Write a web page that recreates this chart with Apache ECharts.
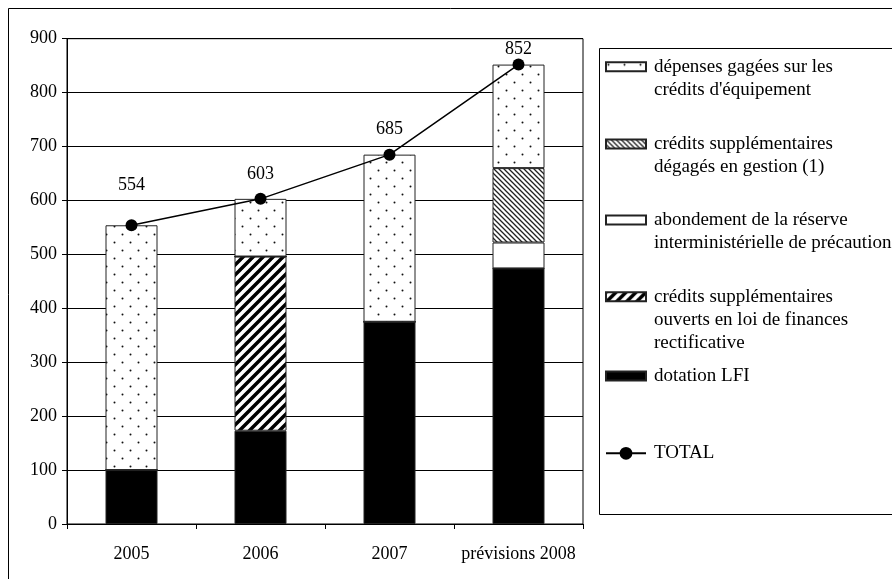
<!DOCTYPE html>
<html>
<head>
<meta charset="utf-8">
<script src="https://cdn.jsdelivr.net/npm/echarts@6/dist/echarts.min.js"></script>
<style>
  html, body { margin: 0; padding: 0; background: #fff; }
  #chart { width: 892px; height: 579px; }
</style>
</head>
<body>
<div id="chart"></div>
<script>
// data
const categories = ['2005', '2006', '2007', 'prévisions 2008']
const dotationLFI = [100, 173, 375, 474]
const creditsLFR = [0, 323, 0, 0]
const reservePrecaution = [0, 0, 0, 48]
const creditsGestion = [0, 0, 0, 138]
const depensesEquipement = [454, 107, 310, 192]
const totals = [554, 603, 685, 852]
const yTicks = [0, 100, 200, 300, 400, 500, 600, 700, 800, 900]

const FONT = 'Liberation Serif'

const makePattern = (w, h, draw) => {
  const c = document.createElement('canvas')
  c.width = w
  c.height = h
  const ctx = c.getContext('2d')
  ctx.fillStyle = '#fff'
  ctx.fillRect(0, 0, w, h)
  draw(ctx)
  return { image: c, repeat: 'repeat' }
}

const dots = makePattern(16, 16, (ctx) => {
  ctx.fillStyle = '#111'
  ctx.beginPath()
  ctx.arc(2.5, 2.5, 1, 0, Math.PI * 2)
  ctx.arc(10.5, 10.5, 1, 0, Math.PI * 2)
  ctx.fill()
})

const thickSlash = makePattern(10, 10, (ctx) => {
  ctx.strokeStyle = '#000'
  ctx.lineWidth = 3.5
  ctx.beginPath()
  for (let k = -1; k <= 1; k++) {
    ctx.moveTo(k * 10 - 1, 11)
    ctx.lineTo(k * 10 + 11, -1)
  }
  ctx.stroke()
})

const fineBackslash = makePattern(5, 5, (ctx) => {
  ctx.strokeStyle = '#222'
  ctx.lineWidth = 1.3
  ctx.beginPath()
  for (let k = -1; k <= 1; k++) {
    ctx.moveTo(k * 5 - 1, -1)
    ctx.lineTo(k * 5 + 6, 6)
  }
  ctx.stroke()
})

const chart = echarts.init(document.getElementById('chart'))

const barSeries = (name, data, color) => ({
  name,
  type: 'bar',
  stack: 'total',
  data,
  barWidth: 52,
  itemStyle: { color, borderColor: '#222', borderWidth: 1 },
  emphasis: { disabled: true },
})

// legend entries: [name, number of text lines, centre y of first line]
const legendRows = [
  ['dépenses gagées sur les\ncrédits d\'équipement', 2, 66.7],
  ['crédits supplémentaires\ndégagés en gestion (1)', 2, 144],
  ['abondement de la réserve\ninterministérielle de précaution', 2, 220],
  ['crédits supplémentaires\nouverts en loi de finances\nrectificative', 3, 296.7],
  ['dotation LFI', 1, 376],
  ['TOTAL', 1, 453.3],
]
const LH = 23

const legends = legendRows.map(([name, lines, y]) => ({
  data: [name],
  orient: 'vertical',
  left: 605,
  top: y - (lines - 1) * LH - LH / 2,
  padding: 0,
  itemWidth: 40,
  itemHeight: name === 'TOTAL' ? 16 : 9,
  icon: name === 'TOTAL' ? undefined : 'rect',
  selectedMode: false,
  formatter: (n) => '\n'.repeat(lines - 1) + n,
  textStyle: {
    fontFamily: FONT,
    fontSize: 19,
    lineHeight: LH,
    color: '#000',
    padding: [0, 0, 0, 3],
  },
}))

chart.setOption({
  animation: false,
  backgroundColor: '#fff',
  graphic: [
    { type: 'rect', shape: { x: 8.5, y: 8.5, width: 1000, height: 700 }, style: { fill: 'none', stroke: '#000', lineWidth: 1 }, silent: true },
    { type: 'rect', shape: { x: 599.5, y: 48.5, width: 400, height: 466 }, style: { fill: '#fff', stroke: '#000', lineWidth: 1 }, silent: true },
  ],
  legend: legends,
  grid: {
    left: 67,
    right: 309,
    top: 38.7,
    bottom: 55,
    show: true,
    borderColor: '#000',
    borderWidth: 1,
  },
  xAxis: {
    type: 'category',
    data: categories,
    axisLine: { lineStyle: { color: '#000', width: 1 } },
    axisTick: { show: true, length: 5, lineStyle: { color: '#000' } },
    axisLabel: { color: '#000', fontFamily: FONT, fontSize: 18, margin: 21, interval: 0 },
  },
  yAxis: {
    type: 'value',
    min: yTicks[0],
    max: yTicks[yTicks.length - 1],
    interval: yTicks[1] - yTicks[0],
    axisLine: { show: true, lineStyle: { color: '#000', width: 1 } },
    axisTick: { show: true, length: 5, lineStyle: { color: '#000' } },
    axisLabel: { color: '#000', fontFamily: FONT, fontSize: 18, margin: 10 },
    splitLine: { lineStyle: { color: '#000', width: 1 } },
  },
  series: [
    barSeries('dotation LFI', dotationLFI, '#000'),
    barSeries('crédits supplémentaires\nouverts en loi de finances\nrectificative', creditsLFR, thickSlash),
    barSeries('abondement de la réserve\ninterministérielle de précaution', reservePrecaution, '#fff'),
    barSeries('crédits supplémentaires\ndégagés en gestion (1)', creditsGestion, fineBackslash),
    barSeries('dépenses gagées sur les\ncrédits d\'équipement', depensesEquipement, dots),
    {
      name: 'TOTAL',
      type: 'line',
      z: 5,
      data: totals.map((v, i) => ({
        value: v,
        label: { distance: [25, 10, 10, 0][i] },
      })),
      symbol: 'circle',
      symbolSize: 12,
      itemStyle: { color: '#000' },
      lineStyle: { color: '#000', width: 1.5 },
      emphasis: { disabled: true },
      label: {
        show: true,
        position: 'top',
        color: '#000',
        fontFamily: FONT,
        fontSize: 18,
      },
    },
  ],
})
</script>
</body>
</html>
